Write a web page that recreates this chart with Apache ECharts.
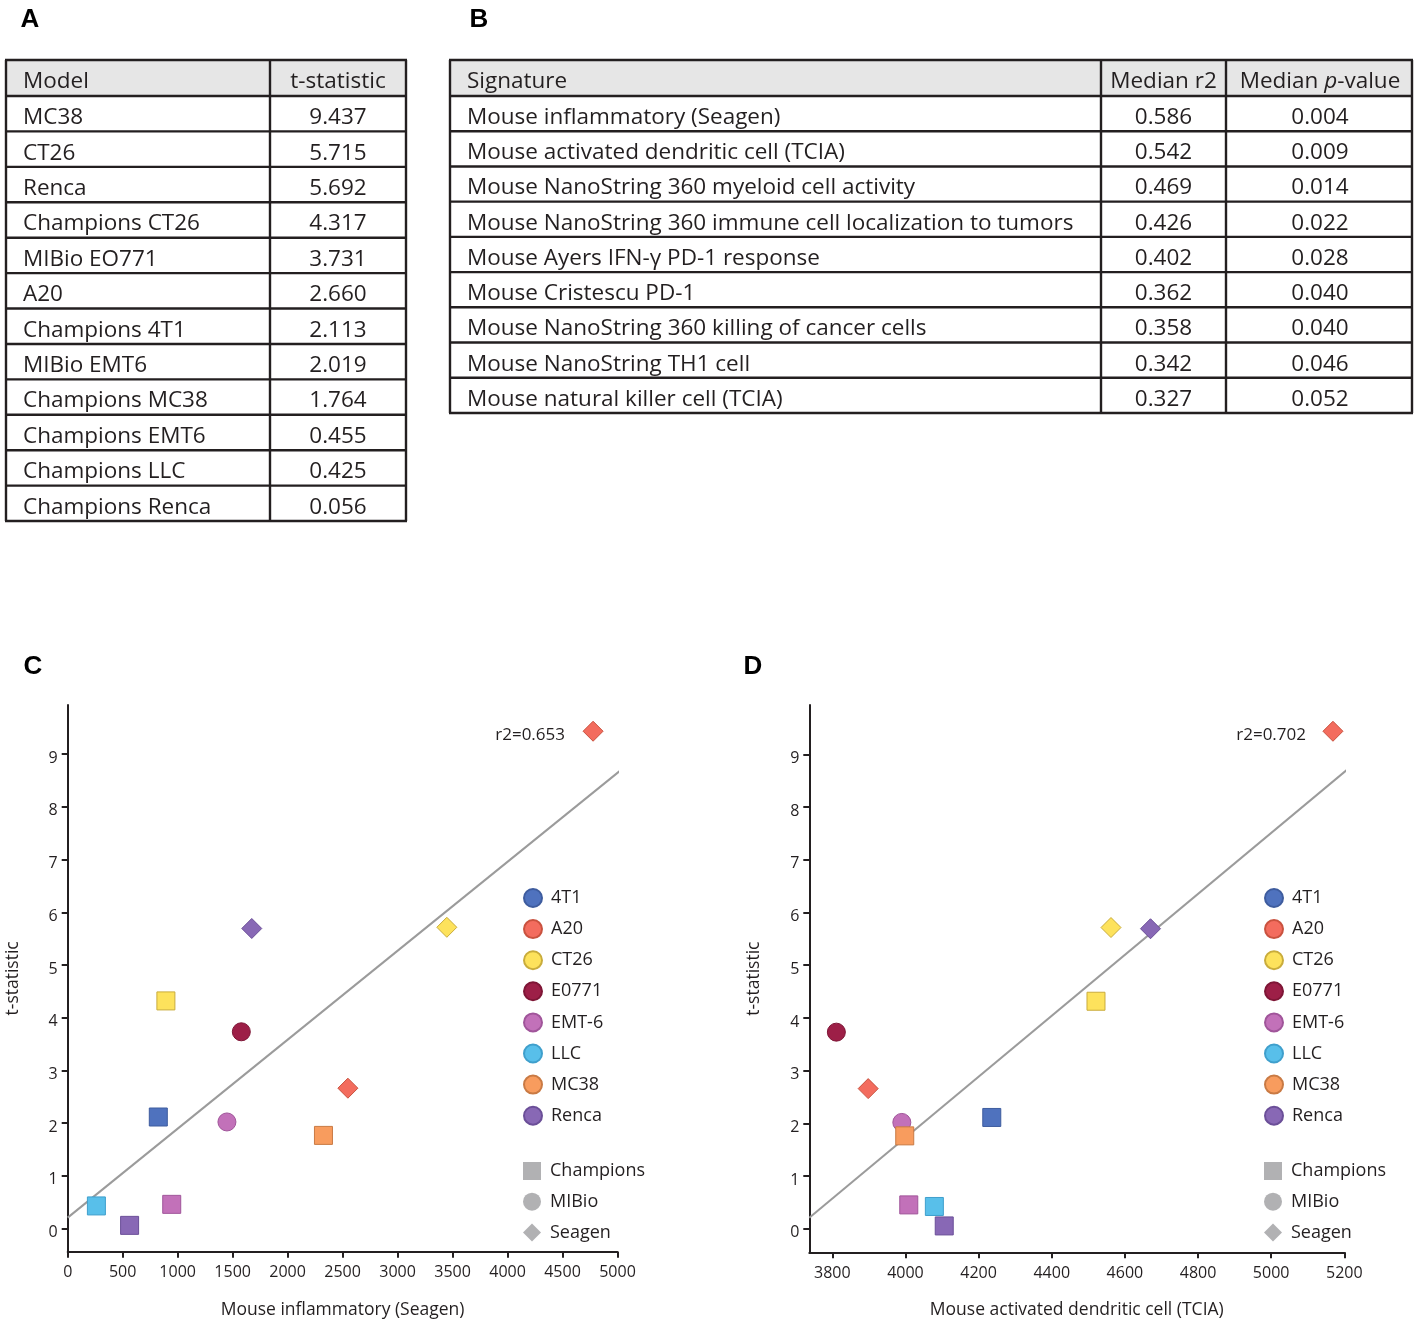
<!DOCTYPE html>
<html><head><meta charset="utf-8">
<script src="https://cdn.jsdelivr.net/npm/echarts@6/dist/echarts.min.js"></script>
<style>html,body{margin:0;padding:0;background:#fff}#main{width:1417px;height:1325px}</style>
</head><body><div id="main"></div>
<script>
// ---------- Table A ----------
const tableAHeader = ['Model', 't-statistic'];
const tableAModels = ['MC38', 'CT26', 'Renca', 'Champions CT26', 'MIBio EO771', 'A20', 'Champions 4T1', 'MIBio EMT6', 'Champions MC38', 'Champions EMT6', 'Champions LLC', 'Champions Renca'];
const tableATstat = [9.437, 5.715, 5.692, 4.317, 3.731, 2.660, 2.113, 2.019, 1.764, 0.455, 0.425, 0.056];

// ---------- Table B ----------
const tableBHeader = ['Signature', 'Median r2', 'Median p-value'];
const tableBSignatures = ['Mouse inflammatory (Seagen)', 'Mouse activated dendritic cell (TCIA)', 'Mouse NanoString 360 myeloid cell activity', 'Mouse NanoString 360 immune cell localization to tumors', 'Mouse Ayers IFN-γ PD-1 response', 'Mouse Cristescu PD-1', 'Mouse NanoString 360 killing of cancer cells', 'Mouse NanoString TH1 cell', 'Mouse natural killer cell (TCIA)'];
const tableBMedianR2 = [0.586, 0.542, 0.469, 0.426, 0.402, 0.362, 0.358, 0.342, 0.327];
const tableBMedianP = [0.004, 0.009, 0.014, 0.022, 0.028, 0.040, 0.040, 0.046, 0.052];

// ---------- Scatter data (C and D) ----------
const legendModels = ['4T1', 'A20', 'CT26', 'E0771', 'EMT-6', 'LLC', 'MC38', 'Renca'];
const legendSources = ['Champions', 'MIBio', 'Seagen'];
const pointModel = ['MC38', 'CT26', 'Renca', 'CT26', 'E0771', 'A20', '4T1', 'EMT-6', 'MC38', 'EMT-6', 'LLC', 'Renca'];
const pointColourGroup = ['A20', 'CT26', 'Renca', 'CT26', 'E0771', 'A20', '4T1', 'EMT-6', 'MC38', 'EMT-6', 'LLC', 'Renca'];
const pointSource = ['Seagen', 'Seagen', 'Seagen', 'Champions', 'MIBio', 'Seagen', 'Champions', 'MIBio', 'Champions', 'Champions', 'Champions', 'Champions'];
const tStatistic = [9.437, 5.715, 5.692, 4.317, 3.731, 2.660, 2.113, 2.019, 1.764, 0.455, 0.425, 0.056];
const mouseInflammatorySeagen = [4778, 3448, 1674, 893, 1579, 2548, 824, 1448, 2326, 946, 261, 563];
const mouseActivatedDendriticTCIA = [5169, 4562, 4670, 4521, 3811, 3898, 4236, 3990, 3998, 4009, 4079, 4106];
const r2TextC = 'r2=0.653';
const r2TextD = 'r2=0.702';
const yTickValues = [0, 1, 2, 3, 4, 5, 6, 7, 8, 9];
const xTickValuesD = [3800, 4000, 4200, 4400, 4600, 4800, 5000, 5200];
const xTitleC = 'Mouse inflammatory (Seagen)';
const xTitleD = 'Mouse activated dendritic cell (TCIA)';
const yTitle = 't-statistic';

// ---------- styles ----------
const FONT = '"Open Sans", "Noto Sans", sans-serif';
const BOLD = '"Liberation Sans", Arial, sans-serif';
const INK = '#231f20';
const palette = {'4T1': '#4f72be', 'A20': '#f36c5e', 'CT26': '#fde25c', 'E0771': '#9d1f47', 'EMT-6': '#c271b9', 'LLC': '#58bfea', 'MC38': '#f89c5e', 'Renca': '#8868b5'};
const borderPal = {'4T1': '#3e5c9e', 'A20': '#c9523f', 'CT26': '#c9ac3c', 'E0771': '#7e1636', 'EMT-6': '#a0559a', 'LLC': '#3f9fcc', 'MC38': '#c97a44', 'Renca': '#6b4f98'};
const sourceSymbol = {Champions: 'rect', MIBio: 'circle', Seagen: 'diamond'};
const sourceSize = {Champions: 18, MIBio: 18, Seagen: 20};
const grey = '#9d9ea0';
const TABLE_FONT = 22.5;

const graphics = [];
function hline(x1, x2, y, w) { graphics.push({type: 'line', silent: true, z: 10, shape: {x1: x1, y1: y, x2: x2, y2: y}, style: {stroke: INK, lineWidth: w}}); }
function vline(x, y1, y2, w) { graphics.push({type: 'line', silent: true, z: 10, shape: {x1: x, y1: y1, x2: x, y2: y2}, style: {stroke: INK, lineWidth: w}}); }
function txt(t, x, y, align, size) {
  graphics.push({type: 'text', silent: true, z: 11, x: x, y: y,
    style: {text: t, font: size + 'px ' + FONT, fill: INK, align: align, verticalAlign: 'middle'}});
}

function drawTable(cols, top, headH, rowH, header, columns, aligns, textX, size) {
  const n = columns[0].length;
  const bottom = top + headH + n * rowH;
  const dy = 4;
  graphics.push({type: 'rect', silent: true, z: 9, shape: {x: cols[0], y: top, width: cols[cols.length - 1] - cols[0], height: headH}, style: {fill: '#e6e6e6'}});
  hline(cols[0] - 1, cols[cols.length - 1] + 1, top, 2.4);
  hline(cols[0] - 1, cols[cols.length - 1] + 1, top + headH, 2.4);
  for (let r = 1; r <= n; r++) hline(cols[0] - 1, cols[cols.length - 1] + 1, top + headH + r * rowH, 2.4);
  cols.forEach(function (x) { vline(x, top, bottom, 2.4); });
  header.forEach(function (h, c) {
    if (typeof h === 'string') txt(h, textX[c], top + headH / 2 + dy, aligns[c], size);
    else graphics.push({type: 'text', silent: true, z: 11, x: textX[c], y: top + headH / 2 + dy,
      style: {text: h.text, rich: h.rich, font: size + 'px ' + FONT, fill: INK, align: aligns[c], verticalAlign: 'middle'}});
  });
  for (let r = 0; r < n; r++) {
    const cy = top + headH + r * rowH + rowH / 2 + dy;
    columns.forEach(function (col, c) { txt(col[r], textX[c], cy, aligns[c], size); });
  }
}

// Table A
drawTable([6, 270, 406], 60, 36, 35.42, tableAHeader,
  [tableAModels, tableATstat.map(function (v) { return v.toFixed(3); })],
  ['left', 'center'], [23, 338], TABLE_FONT);
// Table B
drawTable([450, 1101, 1226, 1412], 60, 36, 35.22,
  [tableBHeader[0], tableBHeader[1], {text: 'Median {i|p}-value', rich: {i: {fontStyle: 'italic', fontSize: TABLE_FONT, fontFamily: FONT, fill: INK, color: INK}}}],
  [tableBSignatures, tableBMedianR2.map(function (v) { return v.toFixed(3); }), tableBMedianP.map(function (v) { return v.toFixed(3); })],
  ['left', 'center', 'center'], [467, 1163.5, 1320], TABLE_FONT);

// panel letters
[['A', 30, 20], ['B', 479, 20], ['C', 33, 667], ['D', 753, 667]].forEach(function (p) {
  graphics.push({type: 'text', silent: true, x: p[1], y: p[2], style: {text: p[0], font: 'bold 26px ' + BOLD, fill: '#000', align: 'center', verticalAlign: 'middle'}});
});
// r2 labels
txt(r2TextC, 565, 735, 'right', 17);
txt(r2TextD, 1306, 735, 'right', 17);

// ---------- regression ----------
function fit(xs, ys) {
  const n = xs.length;
  let mx = 0, my = 0;
  for (let i = 0; i < n; i++) { mx += xs[i]; my += ys[i]; }
  mx /= n; my /= n;
  let sxy = 0, sxx = 0;
  for (let i = 0; i < n; i++) { sxy += (xs[i] - mx) * (ys[i] - my); sxx += (xs[i] - mx) * (xs[i] - mx); }
  const b = sxy / sxx;
  return {a: my - b * mx, b: b};
}
function regLine(xs, extent, idx) {
  const f = fit(xs, tStatistic);
  return {type: 'line', xAxisIndex: idx, yAxisIndex: idx, z: 1, clip: false, symbol: 'none', silent: true,
    lineStyle: {color: '#9b9b9b', width: 2}, data: extent.map(function (x) { return [x, f.a + f.b * x]; })};
}

function scatterSet(xs, idx) {
  return legendModels.map(function (m) {
    const data = [];
    pointModel.forEach(function (pm, i) {
      if (pm !== m) return;
      const g = pointColourGroup[i];
      data.push({value: [xs[i], tStatistic[i]], symbol: sourceSymbol[pointSource[i]], symbolSize: sourceSize[pointSource[i]],
        itemStyle: {color: palette[g], borderColor: borderPal[g]}});
    });
    return {type: 'scatter', name: m, xAxisIndex: idx, yAxisIndex: idx, z: 3, silent: true,
      itemStyle: {color: palette[m], borderColor: borderPal[m], borderWidth: 1, opacity: 1}, data: data};
  });
}

const sourceSeries = legendSources.map(function (s) {
  return {type: 'scatter', name: s, xAxisIndex: 0, yAxisIndex: 0, symbol: sourceSymbol[s], itemStyle: {color: grey}, data: []};
});

function yAxis(idx) {
  return {type: 'value', gridIndex: idx, min: -0.444, max: 9.935,
    name: yTitle, nameLocation: 'middle', nameGap: 46, nameTextStyle: {fontSize: 17.5, color: INK, fontFamily: FONT},
    axisLine: {show: true, onZero: false, lineStyle: {color: INK, width: 2}},
    axisTick: {show: true, length: 6, customValues: yTickValues, lineStyle: {color: INK, width: 2}},
    axisLabel: {customValues: yTickValues, fontSize: 16, color: INK, fontFamily: FONT, margin: 10, verticalAlign: 'top', lineHeight: 8},
    splitLine: {show: false}};
}
function xAxisCommon(idx, name) {
  return {type: 'value', gridIndex: idx, name: name, nameLocation: 'middle', nameGap: 49,
    nameTextStyle: {fontSize: 17.5, color: INK, fontFamily: FONT},
    axisLine: {show: true, onZero: false, lineStyle: {color: INK, width: 2}},
    axisTick: {show: true, length: 6, lineStyle: {color: INK, width: 2}},
    axisLabel: {fontSize: 16, color: INK, fontFamily: FONT, margin: 13, formatter: function (v) { return String(v); }},
    splitLine: {show: false}};
}
const xC = xAxisCommon(0, xTitleC);
xC.min = 0; xC.max = 5000; xC.interval = 500;
const xD = xAxisCommon(1, xTitleD);
xD.min = 3737; xD.max = 5200;
xD.axisTick.customValues = xTickValuesD;
xD.axisLabel.customValues = xTickValuesD;

function legends(left) {
  const ts = {fontSize: 18, color: INK, fontFamily: FONT, padding: [0, 0, 0, 4], lineHeight: 18};
  return [
    {orient: 'vertical', left: left, top: 888, padding: 0, itemWidth: 18, itemHeight: 18, itemGap: 11.1, selectedMode: false, textStyle: ts,
      data: legendModels.map(function (n) { return {name: n, icon: 'circle'}; })},
    {orient: 'vertical', left: left, top: 1162, padding: 0, itemWidth: 18, itemHeight: 18, itemGap: 12.7, selectedMode: false, textStyle: ts,
      data: legendSources.map(function (n) { return {name: n, icon: sourceSymbol[n]}; })}
  ];
}

const chart = echarts.init(document.getElementById('main'), null, {renderer: 'canvas'});
chart.setOption({
  animation: false,
  backgroundColor: '#ffffff',
  textStyle: {fontFamily: FONT},
  grid: [
    {left: 67.7, top: 705, width: 549.8, height: 546.7},
    {left: 809.3, top: 705, width: 535, height: 547.3}
  ],
  xAxis: [xC, xD],
  yAxis: [yAxis(0), yAxis(1)],
  legend: legends(523).concat(legends(1264)),
  graphic: graphics,
  series: [regLine(mouseInflammatorySeagen, [0, 5020], 0), regLine(mouseActivatedDendriticTCIA, [3737, 5240], 1)]
    .concat(scatterSet(mouseInflammatorySeagen, 0))
    .concat(scatterSet(mouseActivatedDendriticTCIA, 1))
    .concat(sourceSeries)
});
</script></body></html>
